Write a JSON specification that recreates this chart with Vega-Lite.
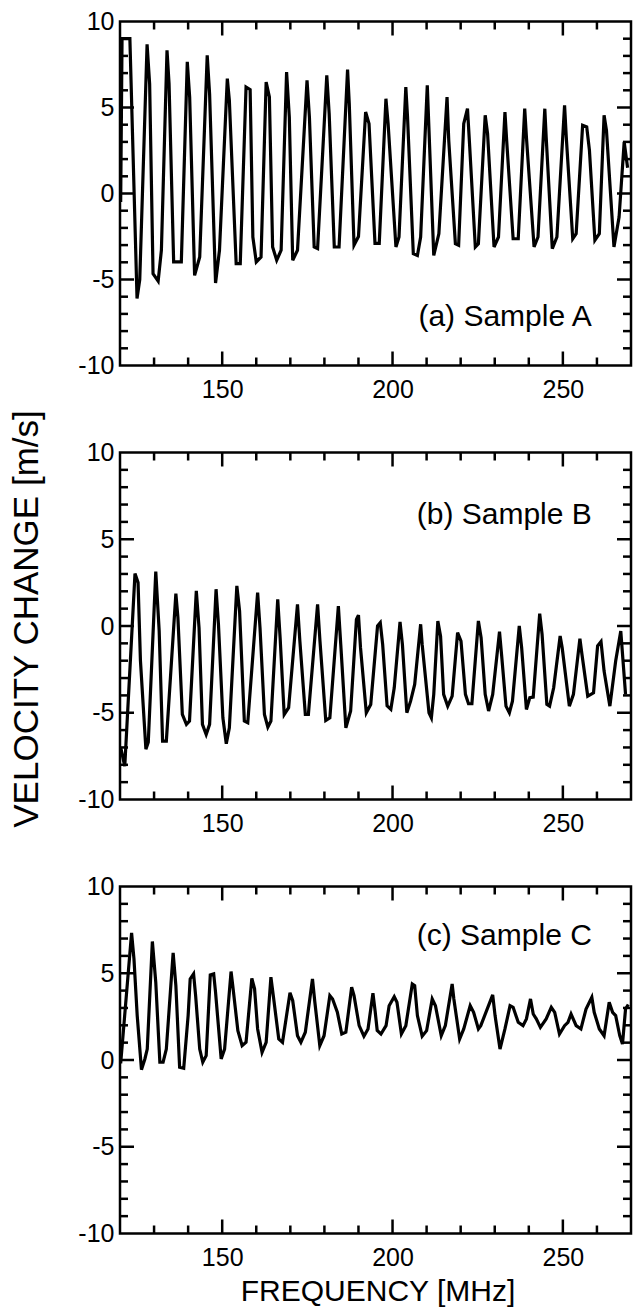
{
  "$schema": "https://vega.github.io/schema/vega-lite/v6.json",
  "padding": {"left": 8, "top": 7.5, "right": 5, "bottom": 5},
  "background": "white",
  "spacing": 87,
  "bounds": "flush",
  "datasets": {
    "xM": [{"t":150},{"t":200},{"t":250}],
    "xm": [{"t":130},{"t":140},{"t":160},{"t":170},{"t":180},{"t":190},{"t":210},{"t":220},{"t":230},{"t":240},{"t":260}],
    "yM": [{"t":-5},{"t":0},{"t":5}],
    "ym": [{"t":-9},{"t":-8},{"t":-7},{"t":-6},{"t":-4},{"t":-3},{"t":-2},{"t":-1},{"t":1},{"t":2},{"t":3},{"t":4},{"t":6},{"t":7},{"t":8},{"t":9}],
    "A": [
      {"f":120.2,"v":-0.5},{"f":120.6,"v":9.0},{"f":122.9,"v":9.0},{"f":125.0,"v":-6.1},{"f":125.8,"v":-5.0},
      {"f":127.95,"v":8.67},{"f":128.7,"v":6.38},{"f":129.7,"v":-4.66},{"f":131.2,"v":-5.09},{"f":132.15,"v":-3.3},
      {"f":133.8,"v":8.32},{"f":134.4,"v":6.38},{"f":135.75,"v":-3.98},{"f":138.0,"v":-3.98},
      {"f":139.75,"v":7.65},{"f":140.45,"v":5.61},{"f":141.9,"v":-4.76},{"f":143.4,"v":-3.69},
      {"f":145.6,"v":8.03},{"f":146.3,"v":5.8},{"f":148.05,"v":-5.2},{"f":149.2,"v":-3.3},
      {"f":151.5,"v":6.68},{"f":152.1,"v":5.42},{"f":154.1,"v":-4.08},{"f":155.3,"v":-4.08},
      {"f":157.0,"v":6.19},{"f":158.2,"v":6.04},{"f":159.0,"v":-2.53},{"f":160.0,"v":-3.98},{"f":161.4,"v":-3.69},
      {"f":162.9,"v":6.48},{"f":163.85,"v":5.61},{"f":164.8,"v":-3.11},{"f":166.0,"v":-3.88},{"f":167.3,"v":-3.3},
      {"f":168.9,"v":7.06},{"f":169.7,"v":4.45},{"f":170.7,"v":-3.88},{"f":172.1,"v":-3.3},
      {"f":174.9,"v":6.58},{"f":175.6,"v":4.45},{"f":177.0,"v":-3.11},{"f":178.0,"v":-3.2},
      {"f":180.7,"v":6.87},{"f":181.4,"v":4.64},{"f":182.9,"v":-3.11},{"f":184.3,"v":-3.11},
      {"f":186.8,"v":7.2},{"f":187.3,"v":5.22},{"f":188.7,"v":-3.0},{"f":190.0,"v":-2.5},
      {"f":192.1,"v":4.74},{"f":193.1,"v":4.06},{"f":194.85,"v":-2.9},{"f":196.1,"v":-2.9},
      {"f":198.06,"v":5.51},{"f":198.7,"v":4.06},{"f":201.0,"v":-3.11},{"f":201.9,"v":-2.53},
      {"f":203.9,"v":6.19},{"f":204.4,"v":4.45},{"f":206.1,"v":-3.5},{"f":207.3,"v":-3.6},{"f":208.25,"v":-2.53},
      {"f":210.2,"v":6.29},{"f":212.1,"v":-3.6},{"f":213.6,"v":-2.34},
      {"f":216.0,"v":5.61},{"f":216.5,"v":3.09},{"f":218.45,"v":-2.92},{"f":219.4,"v":-3.01},
      {"f":220.9,"v":4.06},{"f":222.0,"v":4.93},{"f":222.6,"v":2.9},{"f":224.3,"v":-3.11},{"f":225.2,"v":-2.92},
      {"f":227.2,"v":4.55},{"f":227.9,"v":3.48},{"f":229.8,"v":-3.11},{"f":231.1,"v":-2.53},
      {"f":233.0,"v":4.74},{"f":233.5,"v":3.09},{"f":235.4,"v":-2.63},{"f":236.9,"v":-2.63},
      {"f":238.8,"v":4.93},{"f":239.3,"v":3.28},{"f":241.55,"v":-3.11},{"f":242.7,"v":-2.53},
      {"f":244.7,"v":4.93},{"f":245.1,"v":3.28},{"f":246.9,"v":-3.2},{"f":248.25,"v":-2.53},
      {"f":250.5,"v":5.12},{"f":251.0,"v":3.28},{"f":252.9,"v":-2.63},{"f":253.9,"v":-2.34},
      {"f":255.8,"v":3.96},{"f":257.0,"v":3.87},{"f":257.8,"v":2.51},{"f":259.4,"v":-2.72},{"f":260.7,"v":-2.34},
      {"f":262.1,"v":4.55},{"f":262.8,"v":3.67},{"f":265.0,"v":-3.11},{"f":266.5,"v":-1.37},
      {"f":268.0,"v":3.0},{"f":269.0,"v":1.5}
    ],
    "B": [
      {"f":120.2,"v":-7.0},{"f":121.4,"v":-8.08},{"f":124.4,"v":3.02},{"f":125.3,"v":2.5},{"f":126.0,"v":-2.0},
      {"f":127.6,"v":-7.1},{"f":128.3,"v":-6.7},{"f":130.5,"v":3.13},{"f":131.5,"v":-0.29},{"f":132.5,"v":-6.63},
      {"f":133.6,"v":-6.63},{"f":136.4,"v":1.87},{"f":137.0,"v":0.48},{"f":138.3,"v":-5.1},{"f":139.5,"v":-5.67},
      {"f":140.4,"v":-5.48},{"f":142.4,"v":2.02},{"f":143.2,"v":-0.1},{"f":144.2,"v":-5.67},{"f":145.3,"v":-6.25},
      {"f":146.3,"v":-5.67},{"f":148.2,"v":2.12},{"f":148.9,"v":0.1},{"f":150.2,"v":-5.29},{"f":151.2,"v":-6.79},
      {"f":152.1,"v":-5.87},{"f":154.3,"v":2.31},{"f":155.1,"v":0.87},{"f":156.5,"v":-5.48},{"f":157.5,"v":-5.58},
      {"f":160.4,"v":1.92},{"f":161.1,"v":-0.1},{"f":162.4,"v":-5.1},{"f":163.4,"v":-5.83},{"f":164.3,"v":-5.48},
      {"f":166.3,"v":1.54},{"f":167.0,"v":-0.67},{"f":168.2,"v":-5.1},{"f":169.5,"v":-4.71},
      {"f":172.1,"v":1.25},{"f":172.8,"v":-0.87},{"f":174.4,"v":-5.1},{"f":175.3,"v":-5.1},
      {"f":178.0,"v":1.25},{"f":178.7,"v":-0.87},{"f":180.4,"v":-5.44},{"f":181.6,"v":-5.29},
      {"f":184.1,"v":1.15},{"f":184.8,"v":-1.06},{"f":186.3,"v":-5.87},{"f":187.7,"v":-4.9},
      {"f":189.4,"v":0.38},{"f":190.0,"v":0.63},{"f":190.6,"v":-1.25},{"f":192.3,"v":-5.0},{"f":193.6,"v":-4.52},
      {"f":195.6,"v":0.0},{"f":196.4,"v":0.19},{"f":197.1,"v":-1.06},{"f":198.4,"v":-4.6},{"f":199.5,"v":-4.8},
      {"f":200.5,"v":-3.56},{"f":202.2,"v":0.23},{"f":202.9,"v":-1.06},{"f":204.2,"v":-5.0},{"f":205.3,"v":-4.33},
      {"f":206.5,"v":-3.37},{"f":208.25,"v":0.1},{"f":208.7,"v":-1.06},{"f":210.7,"v":-5.0},{"f":211.4,"v":-5.29},
      {"f":212.1,"v":-3.94},{"f":213.3,"v":0.29},{"f":214.1,"v":-0.58},{"f":215.0,"v":-3.94},{"f":216.2,"v":-4.62},
      {"f":217.5,"v":-4.04},{"f":219.1,"v":-0.38},{"f":220.1,"v":-0.87},{"f":221.4,"v":-3.94},{"f":222.3,"v":-4.48},
      {"f":223.3,"v":-4.48},{"f":225.2,"v":0.29},{"f":226.0,"v":-0.67},{"f":227.2,"v":-3.94},{"f":228.2,"v":-4.9},
      {"f":229.4,"v":-3.94},{"f":231.4,"v":-0.33},{"f":232.0,"v":-1.63},{"f":233.3,"v":-4.62},{"f":234.3,"v":-5.0},
      {"f":235.2,"v":-4.33},{"f":237.2,"v":0.0},{"f":237.9,"v":-1.25},{"f":239.3,"v":-4.81},{"f":240.3,"v":-4.13},
      {"f":241.3,"v":-4.1},{"f":243.2,"v":0.71},{"f":243.9,"v":-0.48},{"f":245.3,"v":-4.52},{"f":246.1,"v":-4.62},
      {"f":247.3,"v":-3.56},{"f":249.2,"v":-0.58},{"f":249.8,"v":-1.25},{"f":251.9,"v":-4.62},{"f":253.1,"v":-3.94},
      {"f":255.0,"v":-0.73},{"f":255.6,"v":-1.63},{"f":257.3,"v":-4.04},{"f":259.0,"v":-3.85},{"f":260.2,"v":-1.15},
      {"f":261.2,"v":-0.9},{"f":262.1,"v":-2.6},{"f":263.8,"v":-4.62},{"f":265.5,"v":-2.02},{"f":267.0,"v":-0.29},
      {"f":268.4,"v":-3.94}
    ],
    "C": [
      {"f":120.2,"v":-0.2},{"f":123.4,"v":7.33},{"f":124.1,"v":5.83},{"f":125.05,"v":2.56},{"f":126.3,"v":-0.56},
      {"f":127.3,"v":0.06},{"f":128.0,"v":0.63},{"f":129.5,"v":6.83},{"f":130.5,"v":4.48},{"f":131.7,"v":-0.13},
      {"f":132.65,"v":-0.13},{"f":133.6,"v":0.63},{"f":135.6,"v":6.17},{"f":136.4,"v":4.29},{"f":137.5,"v":-0.42},
      {"f":138.7,"v":-0.48},{"f":140.0,"v":2.56},{"f":140.6,"v":4.67},{"f":141.6,"v":4.96},{"f":142.2,"v":3.71},
      {"f":143.4,"v":0.63},{"f":144.3,"v":-0.13},{"f":145.3,"v":0.25},{"f":146.5,"v":4.9},{"f":147.5,"v":4.96},
      {"f":148.05,"v":3.9},{"f":149.7,"v":0.06},{"f":150.7,"v":0.63},{"f":152.6,"v":5.1},{"f":153.1,"v":4.29},
      {"f":154.6,"v":1.69},{"f":155.85,"v":0.83},{"f":157.0,"v":1.02},{"f":158.7,"v":4.71},{"f":159.5,"v":4.1},
      {"f":160.4,"v":1.79},{"f":161.7,"v":0.44},{"f":162.9,"v":1.02},{"f":164.3,"v":4.77},{"f":165.0,"v":3.71},
      {"f":166.6,"v":1.21},{"f":167.7,"v":1.02},{"f":169.9,"v":3.87},{"f":170.7,"v":3.42},{"f":172.1,"v":1.4},
      {"f":173.1,"v":1.02},{"f":174.4,"v":1.6},{"f":176.5,"v":4.67},{"f":177.2,"v":3.33},{"f":178.65,"v":0.83},
      {"f":179.9,"v":1.4},{"f":181.6,"v":3.71},{"f":182.4,"v":3.52},{"f":183.8,"v":2.75},{"f":185.1,"v":1.5},
      {"f":186.3,"v":1.6},{"f":188.0,"v":4.19},{"f":188.7,"v":3.71},{"f":190.2,"v":1.98},{"f":191.6,"v":1.37},
      {"f":192.8,"v":1.79},{"f":194.25,"v":3.85},{"f":194.9,"v":2.8},{"f":195.5,"v":1.7},{"f":196.6,"v":1.5},
      {"f":198.1,"v":1.98},{"f":199.0,"v":3.13},{"f":200.5,"v":3.65},{"f":201.3,"v":3.33},{"f":202.6,"v":1.5},
      {"f":203.9,"v":1.98},{"f":205.8,"v":4.38},{"f":206.5,"v":4.29},{"f":207.3,"v":2.56},{"f":208.7,"v":1.37},
      {"f":210.0,"v":1.69},{"f":211.65,"v":3.52},{"f":212.6,"v":3.13},{"f":214.3,"v":1.4},{"f":215.5,"v":1.98},
      {"f":217.5,"v":4.38},{"f":218.0,"v":3.52},{"f":219.7,"v":1.21},{"f":220.9,"v":1.79},{"f":222.8,"v":3.13},
      {"f":223.8,"v":2.75},{"f":225.2,"v":1.79},{"f":225.9,"v":1.98},{"f":229.4,"v":3.75},{"f":230.1,"v":2.56},
      {"f":231.55,"v":0.63},{"f":233.0,"v":1.79},{"f":234.5,"v":3.13},{"f":235.4,"v":3.04},{"f":236.9,"v":2.17},
      {"f":238.3,"v":1.98},{"f":239.3,"v":2.37},{"f":240.5,"v":3.52},{"f":241.3,"v":2.65},{"f":242.2,"v":2.37},
      {"f":243.4,"v":1.88},{"f":245.1,"v":2.37},{"f":246.6,"v":3.04},{"f":247.6,"v":2.75},{"f":249.0,"v":1.5},
      {"f":250.5,"v":1.98},{"f":251.5,"v":2.17},{"f":252.4,"v":2.65},{"f":253.9,"v":1.98},{"f":255.3,"v":1.79},
      {"f":256.8,"v":2.94},{"f":258.5,"v":3.62},{"f":259.2,"v":2.75},{"f":260.7,"v":1.79},{"f":262.1,"v":1.4},
      {"f":263.6,"v":3.33},{"f":264.6,"v":2.75},{"f":265.5,"v":2.56},{"f":266.7,"v":1.4},{"f":267.5,"v":0.92},
      {"f":268.4,"v":2.94},{"f":269.2,"v":3.2}
    ]
  },
  "vconcat": [
    {
      "width": 511, "height": 344,
      "layer": [
        {"data": {"name": "A"}, "mark": {"type": "line", "color": "black", "strokeWidth": 3.2, "clip": true},
          "encoding": {
            "x": {"field": "f", "type": "quantitative", "scale": {"domain": [120, 270], "nice": false, "zero": false}, "axis": {"values": [150, 200, 250], "title": null}},
            "y": {"field": "v", "type": "quantitative", "scale": {"domain": [-10, 10], "nice": false, "zero": false}, "axis": {"values": [-10, -5, 0, 5, 10], "labelExpr": "'' + datum.value", "title": null}}}},
        {"data": {"name": "xM"}, "mark": {"type": "tick", "orient": "vertical", "color": "black", "opacity": 1, "thickness": 2.5, "size": 14, "yOffset": -7},
          "encoding": {"x": {"field": "t", "type": "quantitative", "axis": {"values": [150, 200, 250], "title": null}}, "y": {"datum": -10, "type": "quantitative", "axis": {"values": [-10, -5, 0, 5, 10], "labelExpr": "'' + datum.value", "title": null}}}},
        {"data": {"name": "xm"}, "mark": {"type": "tick", "orient": "vertical", "color": "black", "opacity": 1, "thickness": 2.5, "size": 8, "yOffset": -4},
          "encoding": {"x": {"field": "t", "type": "quantitative", "axis": {"values": [150, 200, 250], "title": null}}, "y": {"datum": -10, "type": "quantitative", "axis": {"values": [-10, -5, 0, 5, 10], "labelExpr": "'' + datum.value", "title": null}}}},
        {"data": {"name": "xM"}, "mark": {"type": "tick", "orient": "vertical", "color": "black", "opacity": 1, "thickness": 2.5, "size": 14, "yOffset": 7},
          "encoding": {"x": {"field": "t", "type": "quantitative", "axis": {"values": [150, 200, 250], "title": null}}, "y": {"datum": 10, "type": "quantitative", "axis": {"values": [-10, -5, 0, 5, 10], "labelExpr": "'' + datum.value", "title": null}}}},
        {"data": {"name": "xm"}, "mark": {"type": "tick", "orient": "vertical", "color": "black", "opacity": 1, "thickness": 2.5, "size": 8, "yOffset": 4},
          "encoding": {"x": {"field": "t", "type": "quantitative", "axis": {"values": [150, 200, 250], "title": null}}, "y": {"datum": 10, "type": "quantitative", "axis": {"values": [-10, -5, 0, 5, 10], "labelExpr": "'' + datum.value", "title": null}}}},
        {"data": {"name": "yM"}, "mark": {"type": "tick", "orient": "horizontal", "color": "black", "opacity": 1, "thickness": 2.5, "size": 14, "xOffset": 7},
          "encoding": {"x": {"datum": 120, "type": "quantitative", "axis": {"values": [150, 200, 250], "title": null}}, "y": {"field": "t", "type": "quantitative", "axis": {"values": [-10, -5, 0, 5, 10], "labelExpr": "'' + datum.value", "title": null}}}},
        {"data": {"name": "ym"}, "mark": {"type": "tick", "orient": "horizontal", "color": "black", "opacity": 1, "thickness": 2.5, "size": 8, "xOffset": 4},
          "encoding": {"x": {"datum": 120, "type": "quantitative", "axis": {"values": [150, 200, 250], "title": null}}, "y": {"field": "t", "type": "quantitative", "axis": {"values": [-10, -5, 0, 5, 10], "labelExpr": "'' + datum.value", "title": null}}}},
        {"data": {"name": "yM"}, "mark": {"type": "tick", "orient": "horizontal", "color": "black", "opacity": 1, "thickness": 2.5, "size": 14, "xOffset": -7},
          "encoding": {"x": {"datum": 270, "type": "quantitative", "axis": {"values": [150, 200, 250], "title": null}}, "y": {"field": "t", "type": "quantitative", "axis": {"values": [-10, -5, 0, 5, 10], "labelExpr": "'' + datum.value", "title": null}}}},
        {"data": {"name": "ym"}, "mark": {"type": "tick", "orient": "horizontal", "color": "black", "opacity": 1, "thickness": 2.5, "size": 8, "xOffset": -4},
          "encoding": {"x": {"datum": 270, "type": "quantitative", "axis": {"values": [150, 200, 250], "title": null}}, "y": {"field": "t", "type": "quantitative", "axis": {"values": [-10, -5, 0, 5, 10], "labelExpr": "'' + datum.value", "title": null}}}},
        {"data": {"values": [{"label": "(a) Sample A"}]},
          "mark": {"type": "text", "align": "right", "baseline": "middle", "fontSize": 30, "color": "black"},
          "encoding": {"x": {"datum": 258.5, "type": "quantitative", "axis": {"values": [150, 200, 250], "title": null}}, "y": {"datum": -7.2, "type": "quantitative", "axis": {"values": [-10, -5, 0, 5, 10], "labelExpr": "'' + datum.value", "title": null}}, "text": {"field": "label"}}}
      ]
    },
    {
      "width": 511, "height": 347,
      "layer": [
        {"data": {"name": "B"}, "mark": {"type": "line", "color": "black", "strokeWidth": 3.2, "clip": true},
          "encoding": {
            "x": {"field": "f", "type": "quantitative", "scale": {"domain": [120, 270], "nice": false, "zero": false}, "axis": {"values": [150, 200, 250], "title": null}},
            "y": {"field": "v", "type": "quantitative", "scale": {"domain": [-10, 10], "nice": false, "zero": false}, "axis": {"values": [-10, -5, 0, 5, 10], "labelExpr": "'' + datum.value", "title": "VELOCITY CHANGE [m/s]"}}}},
        {"data": {"name": "xM"}, "mark": {"type": "tick", "orient": "vertical", "color": "black", "opacity": 1, "thickness": 2.5, "size": 14, "yOffset": -7},
          "encoding": {"x": {"field": "t", "type": "quantitative", "axis": {"values": [150, 200, 250], "title": null}}, "y": {"datum": -10, "type": "quantitative", "axis": {"values": [-10, -5, 0, 5, 10], "labelExpr": "'' + datum.value", "title": "VELOCITY CHANGE [m/s]"}}}},
        {"data": {"name": "xm"}, "mark": {"type": "tick", "orient": "vertical", "color": "black", "opacity": 1, "thickness": 2.5, "size": 8, "yOffset": -4},
          "encoding": {"x": {"field": "t", "type": "quantitative", "axis": {"values": [150, 200, 250], "title": null}}, "y": {"datum": -10, "type": "quantitative", "axis": {"values": [-10, -5, 0, 5, 10], "labelExpr": "'' + datum.value", "title": "VELOCITY CHANGE [m/s]"}}}},
        {"data": {"name": "xM"}, "mark": {"type": "tick", "orient": "vertical", "color": "black", "opacity": 1, "thickness": 2.5, "size": 14, "yOffset": 7},
          "encoding": {"x": {"field": "t", "type": "quantitative", "axis": {"values": [150, 200, 250], "title": null}}, "y": {"datum": 10, "type": "quantitative", "axis": {"values": [-10, -5, 0, 5, 10], "labelExpr": "'' + datum.value", "title": "VELOCITY CHANGE [m/s]"}}}},
        {"data": {"name": "xm"}, "mark": {"type": "tick", "orient": "vertical", "color": "black", "opacity": 1, "thickness": 2.5, "size": 8, "yOffset": 4},
          "encoding": {"x": {"field": "t", "type": "quantitative", "axis": {"values": [150, 200, 250], "title": null}}, "y": {"datum": 10, "type": "quantitative", "axis": {"values": [-10, -5, 0, 5, 10], "labelExpr": "'' + datum.value", "title": "VELOCITY CHANGE [m/s]"}}}},
        {"data": {"name": "yM"}, "mark": {"type": "tick", "orient": "horizontal", "color": "black", "opacity": 1, "thickness": 2.5, "size": 14, "xOffset": 7},
          "encoding": {"x": {"datum": 120, "type": "quantitative", "axis": {"values": [150, 200, 250], "title": null}}, "y": {"field": "t", "type": "quantitative", "axis": {"values": [-10, -5, 0, 5, 10], "labelExpr": "'' + datum.value", "title": "VELOCITY CHANGE [m/s]"}}}},
        {"data": {"name": "ym"}, "mark": {"type": "tick", "orient": "horizontal", "color": "black", "opacity": 1, "thickness": 2.5, "size": 8, "xOffset": 4},
          "encoding": {"x": {"datum": 120, "type": "quantitative", "axis": {"values": [150, 200, 250], "title": null}}, "y": {"field": "t", "type": "quantitative", "axis": {"values": [-10, -5, 0, 5, 10], "labelExpr": "'' + datum.value", "title": "VELOCITY CHANGE [m/s]"}}}},
        {"data": {"name": "yM"}, "mark": {"type": "tick", "orient": "horizontal", "color": "black", "opacity": 1, "thickness": 2.5, "size": 14, "xOffset": -7},
          "encoding": {"x": {"datum": 270, "type": "quantitative", "axis": {"values": [150, 200, 250], "title": null}}, "y": {"field": "t", "type": "quantitative", "axis": {"values": [-10, -5, 0, 5, 10], "labelExpr": "'' + datum.value", "title": "VELOCITY CHANGE [m/s]"}}}},
        {"data": {"name": "ym"}, "mark": {"type": "tick", "orient": "horizontal", "color": "black", "opacity": 1, "thickness": 2.5, "size": 8, "xOffset": -4},
          "encoding": {"x": {"datum": 270, "type": "quantitative", "axis": {"values": [150, 200, 250], "title": null}}, "y": {"field": "t", "type": "quantitative", "axis": {"values": [-10, -5, 0, 5, 10], "labelExpr": "'' + datum.value", "title": "VELOCITY CHANGE [m/s]"}}}},
        {"data": {"values": [{"label": "(b) Sample B"}]},
          "mark": {"type": "text", "align": "right", "baseline": "middle", "fontSize": 30, "color": "black"},
          "encoding": {"x": {"datum": 258.5, "type": "quantitative", "axis": {"values": [150, 200, 250], "title": null}}, "y": {"datum": 6.4, "type": "quantitative", "axis": {"values": [-10, -5, 0, 5, 10], "labelExpr": "'' + datum.value", "title": "VELOCITY CHANGE [m/s]"}}, "text": {"field": "label"}}}
      ]
    },
    {
      "width": 511, "height": 347,
      "layer": [
        {"data": {"name": "C"}, "mark": {"type": "line", "color": "black", "strokeWidth": 3.2, "clip": true},
          "encoding": {
            "x": {"field": "f", "type": "quantitative", "scale": {"domain": [120, 270], "nice": false, "zero": false}, "axis": {"values": [150, 200, 250], "title": "FREQUENCY [MHz]"}},
            "y": {"field": "v", "type": "quantitative", "scale": {"domain": [-10, 10], "nice": false, "zero": false}, "axis": {"values": [-10, -5, 0, 5, 10], "labelExpr": "'' + datum.value", "title": null}}}},
        {"data": {"name": "xM"}, "mark": {"type": "tick", "orient": "vertical", "color": "black", "opacity": 1, "thickness": 2.5, "size": 14, "yOffset": -7},
          "encoding": {"x": {"field": "t", "type": "quantitative", "axis": {"values": [150, 200, 250], "title": "FREQUENCY [MHz]"}}, "y": {"datum": -10, "type": "quantitative", "axis": {"values": [-10, -5, 0, 5, 10], "labelExpr": "'' + datum.value", "title": null}}}},
        {"data": {"name": "xm"}, "mark": {"type": "tick", "orient": "vertical", "color": "black", "opacity": 1, "thickness": 2.5, "size": 8, "yOffset": -4},
          "encoding": {"x": {"field": "t", "type": "quantitative", "axis": {"values": [150, 200, 250], "title": "FREQUENCY [MHz]"}}, "y": {"datum": -10, "type": "quantitative", "axis": {"values": [-10, -5, 0, 5, 10], "labelExpr": "'' + datum.value", "title": null}}}},
        {"data": {"name": "xM"}, "mark": {"type": "tick", "orient": "vertical", "color": "black", "opacity": 1, "thickness": 2.5, "size": 14, "yOffset": 7},
          "encoding": {"x": {"field": "t", "type": "quantitative", "axis": {"values": [150, 200, 250], "title": "FREQUENCY [MHz]"}}, "y": {"datum": 10, "type": "quantitative", "axis": {"values": [-10, -5, 0, 5, 10], "labelExpr": "'' + datum.value", "title": null}}}},
        {"data": {"name": "xm"}, "mark": {"type": "tick", "orient": "vertical", "color": "black", "opacity": 1, "thickness": 2.5, "size": 8, "yOffset": 4},
          "encoding": {"x": {"field": "t", "type": "quantitative", "axis": {"values": [150, 200, 250], "title": "FREQUENCY [MHz]"}}, "y": {"datum": 10, "type": "quantitative", "axis": {"values": [-10, -5, 0, 5, 10], "labelExpr": "'' + datum.value", "title": null}}}},
        {"data": {"name": "yM"}, "mark": {"type": "tick", "orient": "horizontal", "color": "black", "opacity": 1, "thickness": 2.5, "size": 14, "xOffset": 7},
          "encoding": {"x": {"datum": 120, "type": "quantitative", "axis": {"values": [150, 200, 250], "title": "FREQUENCY [MHz]"}}, "y": {"field": "t", "type": "quantitative", "axis": {"values": [-10, -5, 0, 5, 10], "labelExpr": "'' + datum.value", "title": null}}}},
        {"data": {"name": "ym"}, "mark": {"type": "tick", "orient": "horizontal", "color": "black", "opacity": 1, "thickness": 2.5, "size": 8, "xOffset": 4},
          "encoding": {"x": {"datum": 120, "type": "quantitative", "axis": {"values": [150, 200, 250], "title": "FREQUENCY [MHz]"}}, "y": {"field": "t", "type": "quantitative", "axis": {"values": [-10, -5, 0, 5, 10], "labelExpr": "'' + datum.value", "title": null}}}},
        {"data": {"name": "yM"}, "mark": {"type": "tick", "orient": "horizontal", "color": "black", "opacity": 1, "thickness": 2.5, "size": 14, "xOffset": -7},
          "encoding": {"x": {"datum": 270, "type": "quantitative", "axis": {"values": [150, 200, 250], "title": "FREQUENCY [MHz]"}}, "y": {"field": "t", "type": "quantitative", "axis": {"values": [-10, -5, 0, 5, 10], "labelExpr": "'' + datum.value", "title": null}}}},
        {"data": {"name": "ym"}, "mark": {"type": "tick", "orient": "horizontal", "color": "black", "opacity": 1, "thickness": 2.5, "size": 8, "xOffset": -4},
          "encoding": {"x": {"datum": 270, "type": "quantitative", "axis": {"values": [150, 200, 250], "title": "FREQUENCY [MHz]"}}, "y": {"field": "t", "type": "quantitative", "axis": {"values": [-10, -5, 0, 5, 10], "labelExpr": "'' + datum.value", "title": null}}}},
        {"data": {"values": [{"label": "(c) Sample C"}]},
          "mark": {"type": "text", "align": "right", "baseline": "middle", "fontSize": 30, "color": "black"},
          "encoding": {"x": {"datum": 258.5, "type": "quantitative", "axis": {"values": [150, 200, 250], "title": "FREQUENCY [MHz]"}}, "y": {"datum": 7.15, "type": "quantitative", "axis": {"values": [-10, -5, 0, 5, 10], "labelExpr": "'' + datum.value", "title": null}}, "text": {"field": "label"}}}
      ]
    }
  ],
  "config": {
    "font": "Liberation Sans",
    "view": {"stroke": "black", "strokeWidth": 2.5},
    "axis": {"labelFont": "Liberation Sans", "titleFont": "Liberation Sans", "ticks": false, "domain": false, "grid": false, "labelFontSize": 25, "labelColor": "black", "labelFlush": false, "labelOverlap": false, "titleFontWeight": "normal", "titleColor": "black", "titleAlign": "center", "titleBaseline": "middle"},
    "axisX": {"labelPadding": 12, "titleFontSize": 30, "titleX": 257.5, "titleY": 58},
    "axisY": {"labelPadding": 6, "titleFontSize": 35, "titleX": -93.5, "titleY": 166, "titleAngle": -90}
  }
}
